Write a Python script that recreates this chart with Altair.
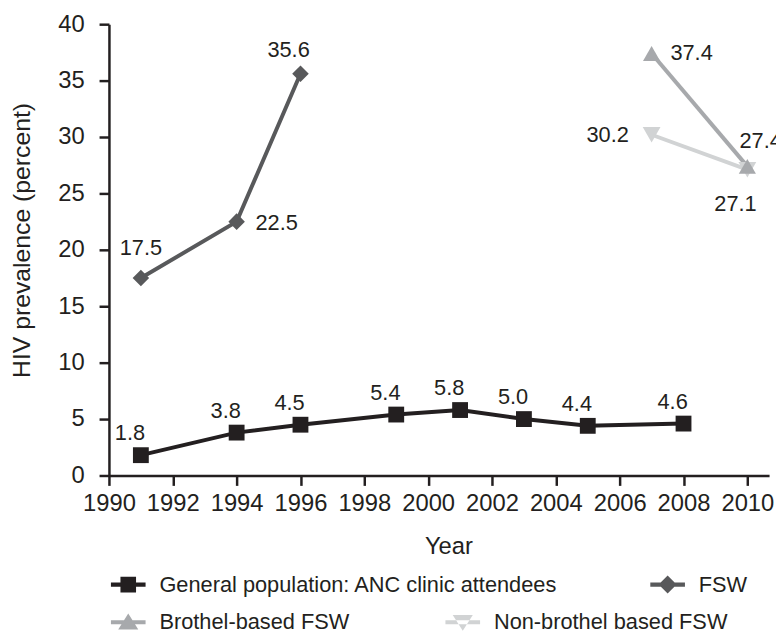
import altair as alt
import pandas as pd

# ---- data ----
gen_years = [1991, 1994, 1996, 1999, 2001, 2003, 2005, 2008]
gen_vals = [1.8, 3.8, 4.5, 5.4, 5.8, 5.0, 4.4, 4.6]
fsw_years = [1991, 1994, 1996]
fsw_vals = [17.5, 22.5, 35.6]
brothel_years = [2007, 2010]
brothel_vals = [37.4, 27.4]
nonbrothel_years = [2007, 2010]
nonbrothel_vals = [30.2, 27.1]

S_GEN = "General population: ANC clinic attendees"
S_FSW = "FSW"
S_BRO = "Brothel-based FSW"
S_NON = "Non-brothel based FSW"
series_names = [S_GEN, S_FSW, S_BRO, S_NON]
series_colors = ["#231f20", "#58595b", "#a7a9ac", "#d1d3d4"]
series_shapes = ["square", "diamond", "triangle-up", "triangle-down"]
series_sizes = [256, 324, 484, 484]

x_ticks = list(range(1990, 2011, 2))
y_ticks = list(range(0, 41, 5))

rows = []
for name, yrs, vals in [(S_GEN, gen_years, gen_vals), (S_FSW, fsw_years, fsw_vals),
                        (S_NON, nonbrothel_years, nonbrothel_vals),
                        (S_BRO, brothel_years, brothel_vals)]:
    for yr, v in zip(yrs, vals):
        rows.append({"series": name, "year": yr, "value": v})
df = pd.DataFrame(rows)

FONT = "Liberation Sans"
INK = "#231f20"

# legend symbols: line segment + marker, as custom paths
LINE = "M-1,-0.12 L1,-0.12 L1,0.12 L-1,0.12 Z "
legend_paths = [
    LINE + "M-0.45,-0.45 L0.45,-0.45 L0.45,0.45 L-0.45,0.45 Z",
    LINE + "M0,-0.52 L0.52,0 L0,0.52 L-0.52,0 Z",
    LINE + "M0,-0.5 L0.58,0.42 L-0.58,0.42 Z",
    LINE + "M0,0.5 L0.58,-0.42 L-0.58,-0.42 Z",
]

x_enc = alt.X("year:Q", scale=alt.Scale(domain=[1990, 2010.68], nice=False, zero=False),
              axis=alt.Axis(values=x_ticks, format="d", title="Year", labelFlush=False,
                            labelOverlap=False, tickSize=10, labelPadding=6,
                            titleX=343, titleY=79, titleAlign="center",
                            titleBaseline="alphabetic", titleFontSize=24))
y_enc = alt.Y("value:Q", scale=alt.Scale(domain=[0, 40], nice=False),
              axis=alt.Axis(values=y_ticks, title="HIV prevalence (percent)", labelFlush=False,
                            labelOverlap=False, tickSize=10, labelPadding=15,
                            titleX=-88, titleY=218, titleAlign="center",
                            titleBaseline="middle", titleFontSize=25))

base = alt.Chart(df)

color_scale = alt.Scale(domain=series_names, range=series_colors)

lines = base.mark_line(strokeWidth=4).encode(
    x=x_enc, y=y_enc,
    color=alt.Color("series:N", scale=color_scale, legend=None),
    detail="series:N",
)

points = base.mark_point(filled=True, opacity=1).encode(
    x=x_enc, y=y_enc,
    color=alt.Color("series:N", scale=color_scale, legend=None),
    shape=alt.Shape("series:N", scale=alt.Scale(domain=series_names, range=series_shapes), legend=None),
    size=alt.Size("series:N", scale=alt.Scale(domain=series_names, range=series_sizes), legend=None),
)


def label(series, align, baseline, dx, dy, year=None):
    cond = alt.datum.series == series
    if year is not None:
        cond = cond & (alt.datum.year == year)
    return base.transform_filter(cond).mark_text(
        align=align, baseline=baseline, dx=dx, dy=dy, fontSize=22, font=FONT, color=INK
    ).encode(x=x_enc, y=y_enc, text=alt.Text("value:Q", format=".1f"))


labels = [
    label(S_GEN, "center", "alphabetic", -11, -15),
    label(S_FSW, "center", "alphabetic", 0, -23, 1991),
    label(S_FSW, "left", "middle", 19, 1, 1994),
    label(S_FSW, "center", "alphabetic", -12, -17, 1996),
    label(S_BRO, "left", "middle", 19, 0, 2007),
    label(S_BRO, "left", "alphabetic", -8, -19, 2010),
    label(S_NON, "right", "middle", -23, 0, 2007),
    label(S_NON, "center", "alphabetic", -12, 42, 2010),
]


def legend_layer(names, pad, ly):
    idx = [series_names.index(n) for n in names]
    leg = alt.Legend(title=None, orient="none", legendX=2, legendY=ly, direction="horizontal",
                     columns=2, columnPadding=pad, padding=0, labelFontSize=22, labelFont=FONT,
                     labelColor=INK, labelOffset=14, labelLimit=0, symbolSize=1225,
                     symbolStrokeWidth=0, symbolOpacity=1)
    return base.transform_filter(alt.FieldOneOfPredicate(field="series", oneOf=names)).mark_point(
        filled=True, opacity=0
    ).encode(
        x=x_enc, y=y_enc,
        color=alt.Color("series:N", scale=alt.Scale(domain=names, range=[series_colors[i] for i in idx]),
                        legend=leg),
        shape=alt.Shape("series:N", scale=alt.Scale(domain=names, range=[legend_paths[i] for i in idx]),
                        legend=leg),
    )


leg1 = legend_layer([S_GEN, S_FSW], 93, 548.5)
leg2 = legend_layer([S_BRO, S_NON], 97, 586.5)

chart = alt.layer(lines, points, *labels, leg1, leg2).resolve_scale(
    color="independent", shape="independent", size="independent"
).resolve_legend(color="independent", shape="independent").properties(
    width=667, height=456,
    autosize=alt.AutoSizeParams(type="none"),
    padding={"left": 102, "top": 13, "right": 7, "bottom": 175},
).configure_view(stroke=None).configure_axis(
    labelFont=FONT, titleFont=FONT, labelFontSize=24, labelColor=INK, titleColor=INK,
    titleFontWeight="normal", domainColor=INK, tickColor=INK, domainWidth=2.5, tickWidth=2.5,
    grid=False,
)

chart.save("out.html", embed_options={"renderer": "svg", "actions": False})
